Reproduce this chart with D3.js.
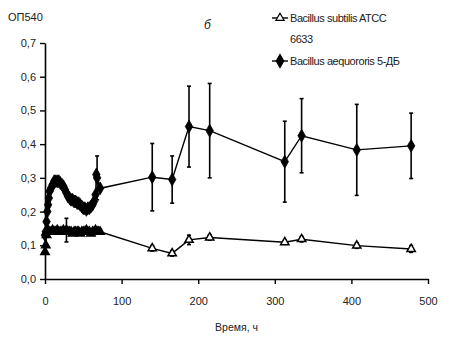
<!DOCTYPE html>
<html>
<head>
<meta charset="utf-8">
<script src="https://cdn.jsdelivr.net/npm/d3@7"></script>
<style>
body { margin: 0; background: #fff; }
svg text { font-family: "Liberation Sans", Arial, sans-serif; fill: #222; }
</style>
</head>
<body>
<div id="chart"></div>
<script>
// hours, OD540 and error for Bacillus subtilis ATCC 6633
var subT   = [0, 1, 2, 3, 4, 6, 8, 10, 12, 14, 16, 18, 20, 22, 24, 26, 28, 30, 32, 34, 36, 38, 40, 42, 44, 46, 48, 50, 52, 54, 56, 58, 60, 62, 64, 66, 68, 70, 72, 140, 166, 188, 215, 313, 335, 407, 478];
var subY   = [0.08, 0.10, 0.13, 0.14, 0.145, 0.14, 0.14, 0.145, 0.14, 0.14, 0.145, 0.14, 0.14, 0.14, 0.145, 0.14, 0.145, 0.14, 0.14, 0.14, 0.135, 0.14, 0.14, 0.14, 0.14, 0.135, 0.14, 0.14, 0.14, 0.145, 0.14, 0.14, 0.135, 0.14, 0.14, 0.145, 0.14, 0.14, 0.14, 0.091, 0.076, 0.116, 0.123, 0.109, 0.118, 0.099, 0.089];
var subErr = [0, 0, 0, 0, 0, 0, 0, 0, 0, 0, 0, 0, 0, 0, 0, 0, 0.035, 0, 0, 0, 0, 0, 0, 0, 0, 0, 0, 0, 0, 0, 0, 0, 0, 0, 0, 0, 0, 0, 0, 0.008, 0.008, 0.014, 0.008, 0.006, 0.008, 0.008, 0.01];

// hours, OD540 and error for Bacillus aequororis 5-ДБ
var aeqT   = [0, 1, 2, 3, 4, 5, 6, 8, 10, 12, 14, 16, 18, 20, 22, 24, 26, 28, 30, 32, 34, 36, 38, 40, 42, 44, 46, 48, 50, 52, 54, 56, 58, 60, 62, 64, 66, 67, 68, 72, 140, 166, 188, 215, 313, 335, 407, 478];
var aeqY   = [0.13, 0.14, 0.17, 0.20, 0.22, 0.24, 0.26, 0.27, 0.28, 0.29, 0.29, 0.29, 0.29, 0.285, 0.28, 0.275, 0.265, 0.255, 0.245, 0.24, 0.235, 0.235, 0.23, 0.23, 0.225, 0.225, 0.22, 0.215, 0.21, 0.21, 0.205, 0.21, 0.21, 0.215, 0.22, 0.23, 0.25, 0.31, 0.30, 0.269, 0.302, 0.295, 0.452, 0.44, 0.348, 0.425, 0.383, 0.395];
var aeqErr = [0, 0, 0, 0, 0, 0, 0, 0, 0, 0, 0, 0, 0, 0, 0, 0, 0, 0, 0, 0, 0, 0, 0, 0, 0, 0, 0, 0, 0, 0, 0, 0, 0, 0, 0, 0, 0, 0, 0.065, 0, 0.10, 0.07, 0.12, 0.14, 0.12, 0.11, 0.135, 0.097];

var xTicks = [0, 100, 200, 300, 400, 500];
var yTicks = [0, 0.1, 0.2, 0.3, 0.4, 0.5, 0.6, 0.7];

var W = 450, H = 346;
var margin = {top: 43, right: 22, bottom: 67, left: 45};
var width = W - margin.left - margin.right,
    height = H - margin.top - margin.bottom;

var svg = d3.select("#chart").append("svg")
    .attr("width", W)
    .attr("height", H);

var x = d3.scaleLinear().domain([0, 500]).range([0, width]);
var y = d3.scaleLinear().domain([0, 0.7]).range([height, 0]);

var g = svg.append("g")
    .attr("transform", "translate(" + margin.left + "," + margin.top + ")");

var fmt = function(d) { return d3.format(".1f")(d).replace(".", ","); };

var xAxis = d3.axisBottom(x).tickValues(xTicks).tickSize(5).tickSizeOuter(0).tickPadding(13);
var yAxis = d3.axisLeft(y).tickValues(yTicks).tickSize(5).tickSizeOuter(0).tickPadding(4).tickFormat(fmt);

var gx = g.append("g").attr("transform", "translate(0," + height + ")").call(xAxis);
var gy = g.append("g").call(yAxis);
[gx, gy].forEach(function(a) {
    a.select(".domain").attr("stroke", "#000").attr("stroke-width", 1.6);
    a.selectAll(".tick line").attr("stroke", "#000").attr("stroke-width", 1.4);
    a.selectAll("text").style("font-size", "11px").attr("fill", "#333");
});
gx.selectAll(".tick line").attr("y1", 0);

// series
function toPts(ts, ys, es) {
    return ts.map(function(t, i) { return {x: t, y: ys[i], e: es[i]}; });
}
var sub = toPts(subT, subY, subErr);
var aeq = toPts(aeqT, aeqY, aeqErr);

var line = d3.line()
    .x(function(d) { return x(d.x); })
    .y(function(d) { return y(d.y); });

function drawErr(data) {
    var eb = g.append("g").attr("stroke", "#000").attr("stroke-width", 1.6);
    data.filter(function(d) { return d.e > 0; }).forEach(function(d) {
        var cx = x(d.x), y0 = y(d.y - d.e), y1 = y(d.y + d.e);
        eb.append("line").attr("x1", cx).attr("x2", cx).attr("y1", y0).attr("y2", y1);
        eb.append("line").attr("x1", cx - 2).attr("x2", cx + 2).attr("y1", y0).attr("y2", y0);
        eb.append("line").attr("x1", cx - 2).attr("x2", cx + 2).attr("y1", y1).attr("y2", y1);
    });
}

drawErr(aeq);
drawErr(sub);

g.append("path").datum(aeq).attr("d", line)
    .attr("fill", "none").attr("stroke", "#000").attr("stroke-width", 1.4);
g.append("path").datum(sub).attr("d", line)
    .attr("fill", "none").attr("stroke", "#000").attr("stroke-width", 1.4);

var diamond = d3.symbol().type(d3.symbolDiamond).size(48);
var tri = d3.symbol().type(d3.symbolTriangle).size(30);

g.selectAll(".aeq").data(aeq).enter().append("path")
    .attr("class", "aeq")
    .attr("d", diamond)
    .attr("transform", function(d) { return "translate(" + x(d.x) + "," + y(d.y) + ")"; })
    .attr("fill", "#000").attr("stroke", "#000").attr("stroke-width", 0.8);

g.selectAll(".sub").data(sub).enter().append("path")
    .attr("class", "sub")
    .attr("d", tri)
    .attr("transform", function(d) { return "translate(" + x(d.x) + "," + y(d.y) + ")"; })
    .attr("fill", function(d) { return d.x < 80 ? "#000" : "#fff"; })
    .attr("stroke", "#000").attr("stroke-width", 1.5);

// labels
svg.append("text").attr("x", 8).attr("y", 21).style("font-size", "11px").attr("fill", "#333").text("ОП540");
svg.append("text").attr("x", 204).attr("y", 29).style("font-size", "12px").style("font-style", "italic").attr("fill", "#333").text("б");
svg.append("text").attr("x", margin.left + width / 2).attr("y", 331)
    .attr("text-anchor", "middle").style("font-size", "10.5px").attr("fill", "#333").text("Время, ч");

// legend
var lg = svg.append("g").attr("transform", "translate(272,0)");
var items = [
    {lines: ["Bacillus subtilis ATCC", "6633"], y: 18, sym: tri, fill: "#fff"},
    {lines: ["Bacillus aequororis 5-ДБ"], y: 61, sym: diamond, fill: "#000"}
];
items.forEach(function(it) {
    lg.append("line").attr("x1", 0).attr("x2", 16).attr("y1", it.y).attr("y2", it.y)
        .attr("stroke", "#000").attr("stroke-width", 1.4);
    lg.append("path").attr("d", it.sym).attr("transform", "translate(8," + it.y + ")")
        .attr("fill", it.fill).attr("stroke", "#000").attr("stroke-width", 1.2);
    it.lines.forEach(function(s, j) {
        lg.append("text").attr("x", 18).attr("y", it.y + 4 + j * 21)
            .attr("textLength", j === 0 ? null : null)
            .style("font-size", "11px").style("letter-spacing", "-0.45px")
            .attr("fill", "#333").text(s);
    });
});
</script>
</body>
</html>
